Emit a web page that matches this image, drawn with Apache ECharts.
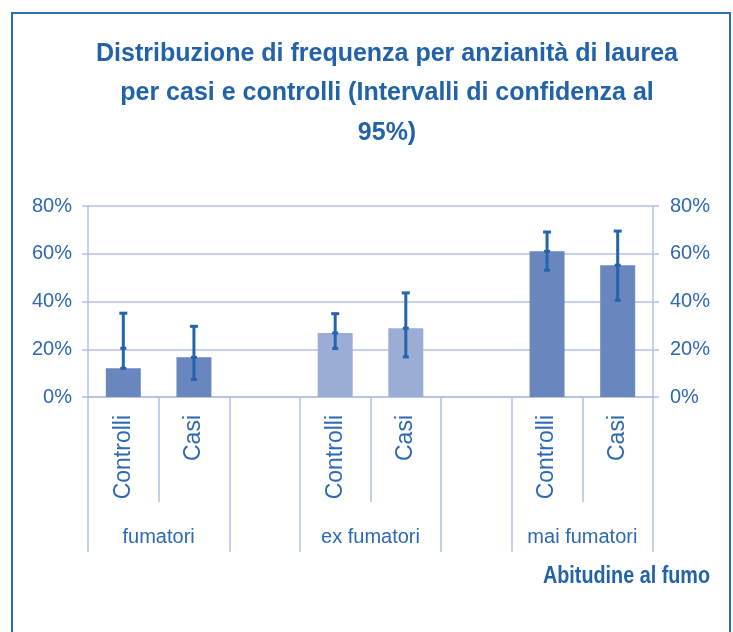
<!DOCTYPE html>
<html>
<head>
<meta charset="utf-8">
<script src="https://cdn.jsdelivr.net/npm/echarts@6/dist/echarts.min.js"></script>
<style>
html, body { margin: 0; padding: 0; background: #fff; }
#tu1 { width: 733px; height: 632px; }
</style>
</head>
<body>
<div id="tu1"></div>
<script>
// dati (percentuali)
var categorie = ['Controlli', 'Casi', '', 'Controlli', 'Casi', '', 'Controlli', 'Casi'];
var gruppoDi  = ['fumatori', 'fumatori', '', 'ex fumatori', 'ex fumatori', '', 'mai fumatori', 'mai fumatori'];
var gruppi    = ['fumatori', 'ex fumatori', 'mai fumatori'];
var valori    = [12.0, 16.6, null, 26.8, 28.8, null, 61.0, 55.2];
var icBasso   = [12.0, 7.4, null, 20.3, 16.8, null, 53.1, 40.5];
var icMedio   = [20.4, 16.6, null, 26.8, 28.8, null, 61.0, 55.2];
var icAlto    = [35.1, 29.6, null, 34.9, 43.6, null, 69.1, 69.5];
var tickY     = [0, 20, 40, 60, 80];
// confini e centri dei gruppi, in colonne dell'asse
var confiniGruppi = [0, 2, 3, 5, 6, 8];
var centriGruppi  = [1, 4, 7];

var blu = '#2d68b2';
var griglia = '#b3c0e3';
var coloreIC = '#2563aa';

var datiIC = [];
for (var i = 0; i < categorie.length; i++) {
    if (icAlto[i] != null) {
        datiIC.push([i, icBasso[i], icMedio[i], icAlto[i]]);
    }
}

function disegnaIC(params, api) {
    var x = api.value(0);
    var basso = api.coord([x, api.value(1)]);
    var medio = api.coord([x, api.value(2)]);
    var alto = api.coord([x, api.value(3)]);
    var st = { stroke: coloreIC, lineWidth: 3 };
    return {
        type: 'group',
        children: [
            { type: 'line', shape: { x1: alto[0], y1: alto[1], x2: basso[0], y2: basso[1] }, style: st },
            { type: 'line', shape: { x1: alto[0] - 4, y1: alto[1], x2: alto[0] + 4, y2: alto[1] }, style: st },
            { type: 'line', shape: { x1: medio[0] - 3, y1: medio[1], x2: medio[0] + 3, y2: medio[1] }, style: st },
            { type: 'line', shape: { x1: basso[0] - 3, y1: basso[1], x2: basso[0] + 3, y2: basso[1] }, style: st }
        ]
    };
}

var myChart1 = echarts.init(document.getElementById('tu1'));

var option1 = {
    animation: false,
    title: {
        text: 'Distribuzione di frequenza per anzianità di laurea\nper casi e controlli (Intervalli di confidenza al\n95%)',
        left: 387,
        top: 34,
        padding: 0,
        textAlign: 'center',
        textStyle: {
            fontFamily: 'Liberation Sans',
            fontWeight: 'bold',
            fontSize: 25,
            lineHeight: 39.5,
            color: '#2262a8'
        }
    },
    graphic: [{
        type: 'rect',
        z: -10,
        shape: { x: 12, y: 13, width: 718, height: 640 },
        style: { fill: 'none', stroke: '#2b6cb5', lineWidth: 2 }
    }, {
        // titolo dell'asse, in carattere stretto
        type: 'text',
        x: 710,
        y: 577,
        scaleX: 0.86,
        style: {
            text: 'Abitudine al fumo',
            font: 'bold 23px "Liberation Sans"',
            fill: '#2262a8',
            align: 'right',
            verticalAlign: 'middle'
        }
    }],
    grid: {
        left: 88,
        right: 80,
        top: 206,
        bottom: 235
    },
    xAxis: [{
        type: 'category',
        data: categorie,
        axisLine: { lineStyle: { color: griglia, width: 1.5 } },
        axisTick: { show: true, length: 105, lineStyle: { color: griglia, width: 1.5 } },
        axisLabel: {
            rotate: 90,
            interval: 0,
            margin: 18,
            fontFamily: 'Liberation Sans',
            fontSize: 23,
            color: blu
        }
    }, {
        type: 'value',
        position: 'bottom',
        min: 0,
        max: categorie.length,
        axisLine: { show: false },
        splitLine: { show: false },
        axisTick: {
            show: true,
            length: 155,
            customValues: confiniGruppi,
            lineStyle: { color: griglia, width: 1.5 }
        },
        axisLabel: {
            customValues: centriGruppi,
            margin: 130,
            fontFamily: 'Liberation Sans',
            fontSize: 20,
            color: blu,
            formatter: function (v) {
                return gruppi[centriGruppi.indexOf(v)];
            }
        }
    }],
    yAxis: [{
        type: 'value',
        min: tickY[0],
        max: tickY[tickY.length - 1],
        interval: 20,
        position: 'left',
        axisLine: { show: true, lineStyle: { color: griglia, width: 1.5 } },
        axisTick: { show: true, length: 6, lineStyle: { color: griglia, width: 1.5 } },
        splitLine: { lineStyle: { color: griglia, width: 1.5 } },
        axisLabel: {
            margin: 16,
            fontFamily: 'Liberation Sans',
            fontSize: 20,
            color: blu,
            formatter: '{value}%'
        }
    }, {
        type: 'value',
        min: tickY[0],
        max: tickY[tickY.length - 1],
        interval: 20,
        position: 'right',
        axisLine: { show: true, lineStyle: { color: griglia, width: 1.5 } },
        axisTick: { show: true, length: 6, lineStyle: { color: griglia, width: 1.5 } },
        splitLine: { show: false },
        axisLabel: {
            margin: 17,
            fontFamily: 'Liberation Sans',
            fontSize: 20,
            color: blu,
            formatter: '{value}%'
        }
    }],
    series: [{
        type: 'bar',
        xAxisIndex: 0,
        yAxisIndex: 0,
        barWidth: 35,
        data: valori,
        itemStyle: {
            color: function (p) {
                return gruppoDi[p.dataIndex] === 'ex fumatori' ? '#9badd5' : '#6a86bf';
            }
        }
    }, {
        type: 'custom',
        xAxisIndex: 0,
        yAxisIndex: 0,
        renderItem: disegnaIC,
        encode: { x: 0, y: [1, 2, 3] },
        data: datiIC,
        z: 5
    }]
};

myChart1.setOption(option1);
</script>
</body>
</html>
